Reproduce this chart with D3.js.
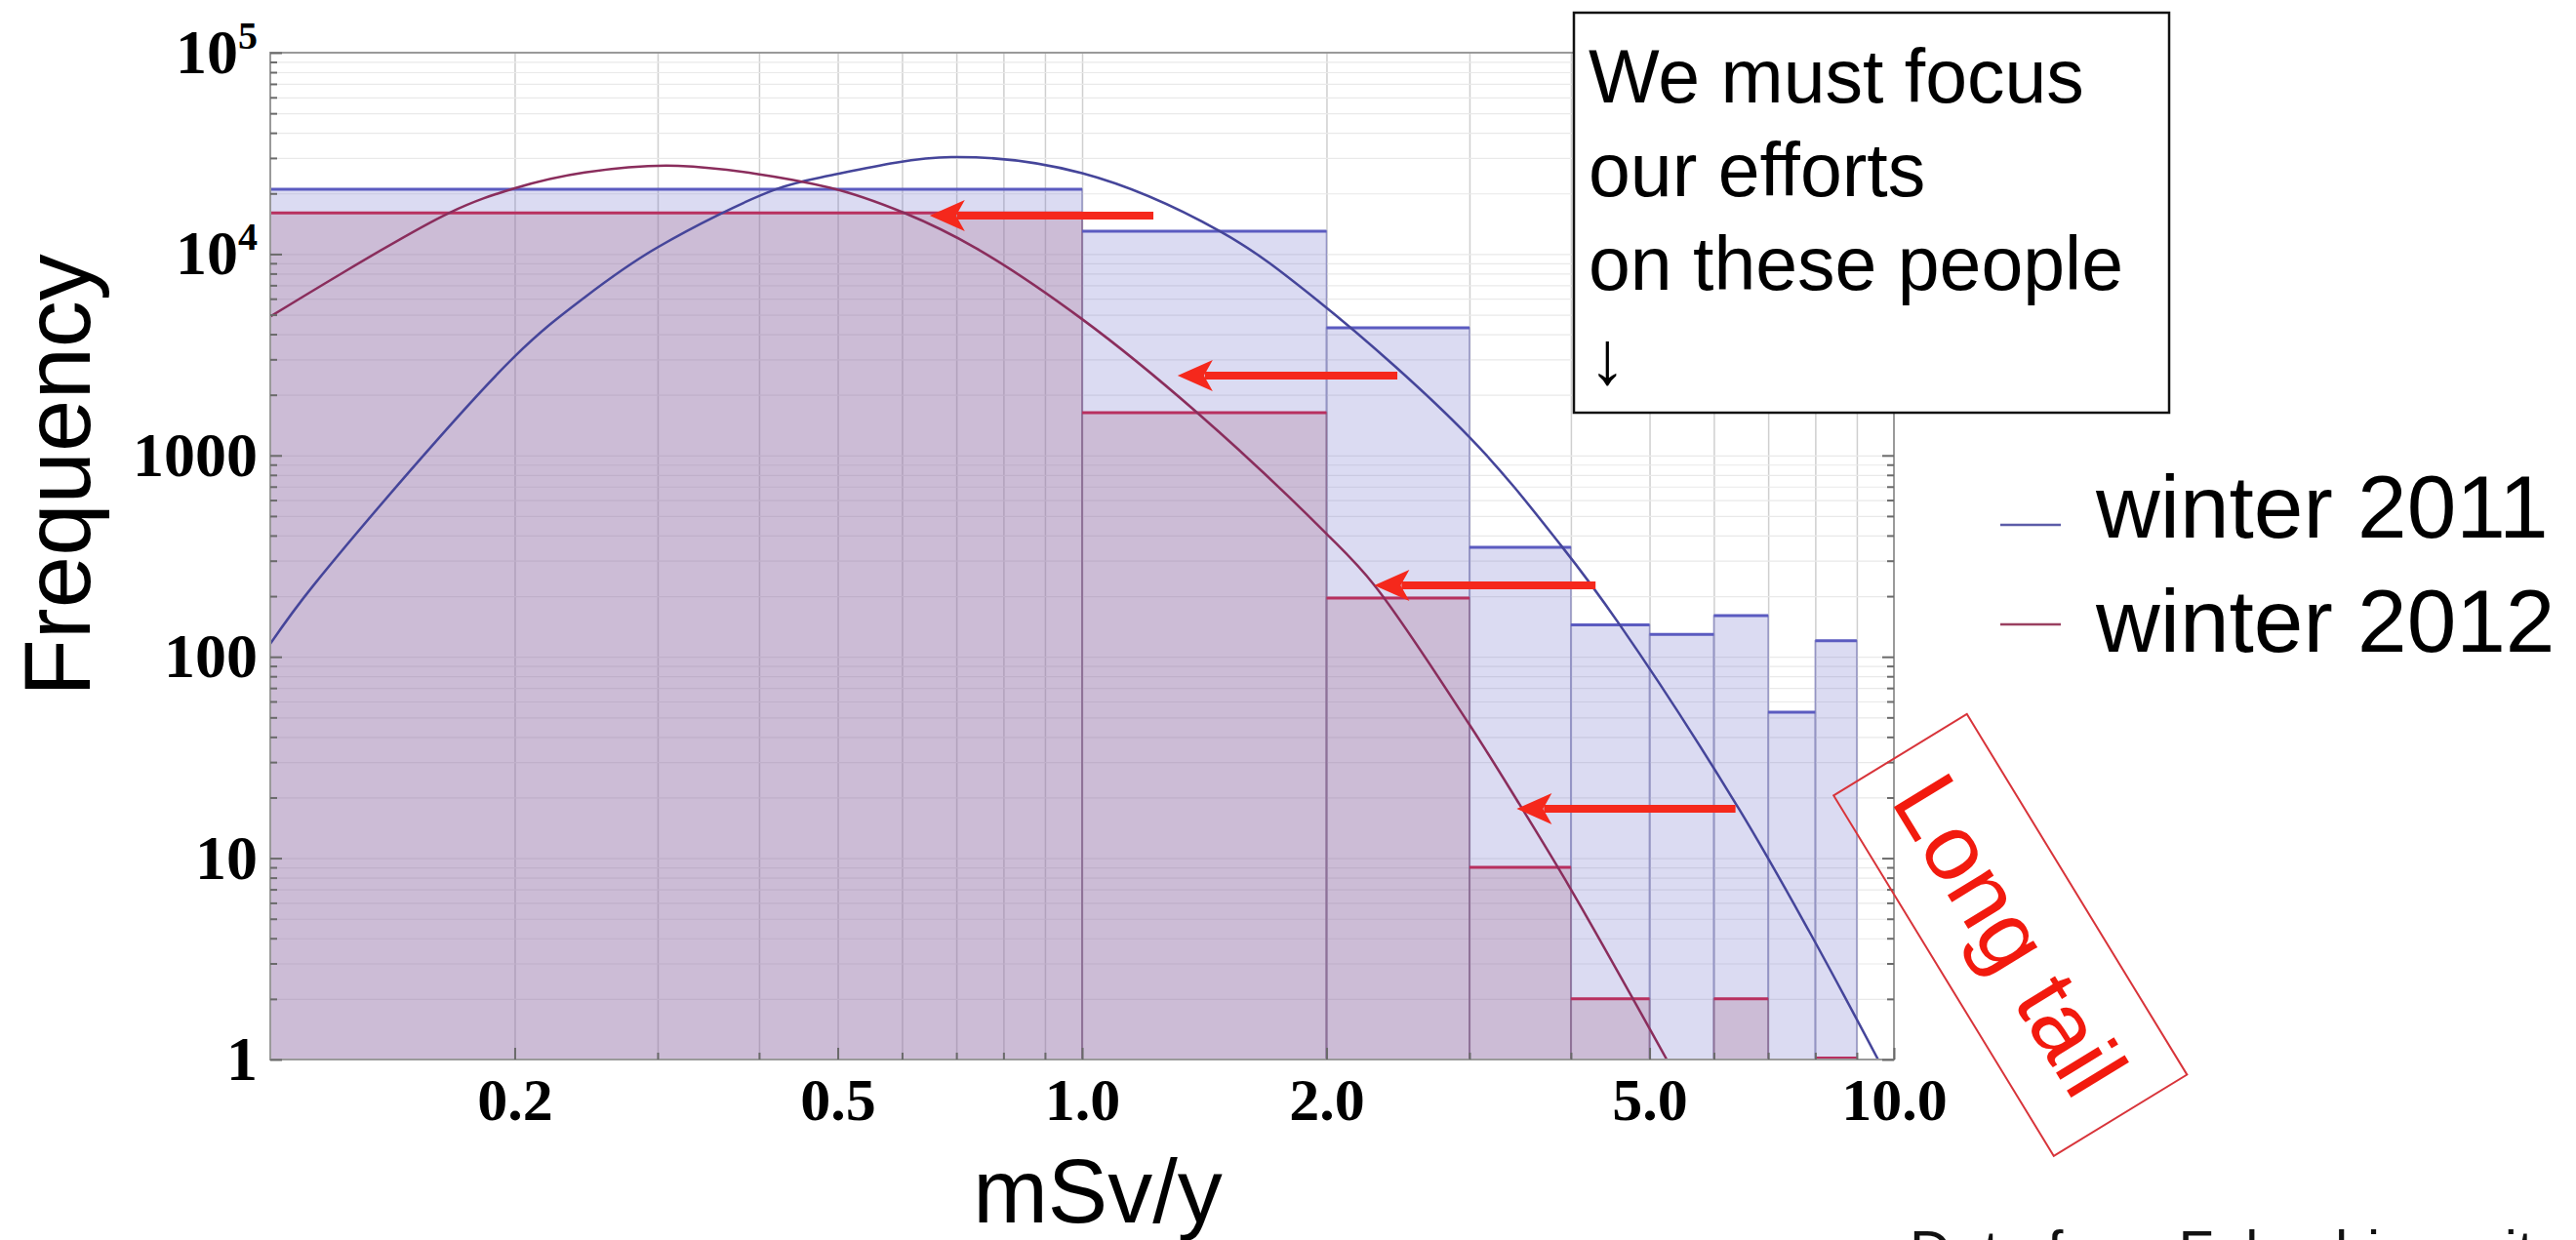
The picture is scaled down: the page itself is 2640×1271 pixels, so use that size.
<!DOCTYPE html>
<html>
<head>
<meta charset="utf-8">
<script src="https://cdn.jsdelivr.net/npm/d3@7"></script>
<style>
  html, body { margin: 0; padding: 0; background: #fff; }
  svg { display: block; }
</style>
</head>
<body>
<div id="graph"></div>
<script>
// histogram bins (first bin 0-1 is cut at the axis minimum 0.1)
var binStart = [0.1, 1, 2, 3, 4, 5, 6, 7, 8, 9];
var binEnd   = [1, 2, 3, 4, 5, 6, 7, 8, 9, 10];
var winter2011 = [21000, 13000, 4300, 350, 144, 129, 160, 53, 120, 0];
var winter2012 = [16000, 1630, 196, 9, 2, 0, 2, 0, 1, 0];

// fitted curves, points
var fit2011X = [0.1, 0.113, 0.2, 0.244, 0.3, 0.42, 0.488, 0.69, 1.0, 1.477, 1.948, 3.0, 3.89, 4.59, 6.43, 7.87, 9.56];
var fit2011Y = [116, 226, 3100, 6100, 10800, 21000, 24500, 30300, 25200, 13000, 5900, 1233, 357, 145, 17.8, 4.3, 1];
var fit2012X = [0.1, 0.166, 0.2, 0.244, 0.318, 0.488, 0.604, 0.74, 1.0, 1.386, 2.0, 2.29, 3.0, 3.43, 4.0, 5.25];
var fit2012Y = [4890, 16000, 21200, 25400, 27400, 21400, 16000, 10700, 4750, 1630, 408, 227, 46, 19.5, 7.0, 1];

// red arrows: from x, to x, at level y
var arrowFromX = [1.224, 2.445, 4.29, 6.38];
var arrowToX   = [0.649, 1.311, 2.29, 3.43];
var arrowY     = [15500, 2490, 226, 17.6];

var yMajor = [1, 10, 100, 1000, 10000, 100000];
var xMajor = [0.2, 0.5, 1, 2, 5, 10];
var seriesNames = ["winter 2011", "winter 2012"];
var noteLines = ["We must focus", "our efforts", "on these people", "\u2193"];

var W = 2640, H = 1271;
var pL = 277, pR = 1941, pT = 54, pB = 1086;
var sans = "'Liberation Sans', Arial, Helvetica, sans-serif";
var serif = "'Liberation Serif', 'Times New Roman', serif";

var svg = d3.select("#graph").append("svg")
    .attr("width", W).attr("height", H)
    .style("background", "#fff");

var x = d3.scaleLog().domain([0.1, 10]).range([pL, pR]);
var y = d3.scaleLog().domain([1, 100000]).range([pB, pT]);

svg.append("defs").append("clipPath").attr("id", "plotclip")
  .append("rect").attr("x", pL).attr("y", pT)
  .attr("width", pR - pL).attr("height", pB - pT);

// grid lines
var gx = svg.append("g").attr("transform", "translate(0," + pB + ")")
  .call(d3.axisBottom(x).tickValues(x.ticks().filter(function(t){ return t > 0.1 && t < 10; }))
    .tickSize(-(pB - pT)).tickFormat(""));
var gy = svg.append("g").attr("transform", "translate(" + pL + ",0)")
  .call(d3.axisLeft(y).tickValues(y.ticks().filter(function(t){ return t > 1 && t < 100000; }))
    .tickSize(-(pR - pL)).tickFormat(""));
gx.select(".domain").remove();
gy.select(".domain").remove();
gx.selectAll("line").attr("stroke", "#cfcfcf").attr("stroke-width", 1.5);
gy.selectAll("line").attr("stroke", "#e9e9e9").attr("stroke-width", 1.2);

var bins = binStart.map(function(s, i) {
  return { x0: s, x1: binEnd[i], a: winter2011[i], b: winter2012[i] };
});

var plot = svg.append("g").attr("clip-path", "url(#plotclip)");

// winter 2011 bars
plot.selectAll("rect.b2011")
  .data(bins.filter(function(d){ return d.a > 0; }))
  .enter().append("rect")
  .attr("class", "b2011")
  .attr("x", function(d){ return x(d.x0); })
  .attr("y", function(d){ return y(d.a); })
  .attr("width", function(d){ return x(d.x1) - x(d.x0); })
  .attr("height", function(d){ return y(1) - y(d.a); })
  .attr("fill", "rgba(100,100,200,0.23)")
  .attr("stroke", "#9494c4").attr("stroke-width", 1.5);

// winter 2012 bars
plot.selectAll("rect.b2012")
  .data(bins.filter(function(d){ return d.b > 0; }))
  .enter().append("rect")
  .attr("class", "b2012")
  .attr("x", function(d){ return x(d.x0); })
  .attr("y", function(d){ return y(d.b); })
  .attr("width", function(d){ return x(d.x1) - x(d.x0); })
  .attr("height", function(d){ return y(1) - y(d.b); })
  .attr("fill", "rgba(170,117,149,0.30)")
  .attr("stroke", "#8f7197").attr("stroke-width", 1.5);

// bar tops
plot.selectAll("line.t2011")
  .data(bins.filter(function(d){ return d.a > 0; }))
  .enter().append("line")
  .attr("x1", function(d){ return x(d.x0); })
  .attr("x2", function(d){ return x(d.x1); })
  .attr("y1", function(d){ return y(d.a); })
  .attr("y2", function(d){ return y(d.a); })
  .attr("stroke", "#5b5bc0").attr("stroke-width", 3);
plot.selectAll("line.t2012")
  .data(bins.filter(function(d){ return d.b > 0; }))
  .enter().append("line")
  .attr("x1", function(d){ return x(d.x0); })
  .attr("x2", function(d){ return x(d.x1); })
  .attr("y1", function(d){ return Math.min(y(d.b), pB - 1.5); })
  .attr("y2", function(d){ return Math.min(y(d.b), pB - 1.5); })
  .attr("stroke", "#b8305f").attr("stroke-width", 3);

// fitted curves
var line = d3.line()
  .x(function(d){ return x(d[0]); })
  .y(function(d){ return y(d[1]); })
  .curve(d3.curveCatmullRom.alpha(0.5));

plot.append("path")
  .datum(fit2011X.map(function(v, i){ return [v, fit2011Y[i]]; }))
  .attr("d", line).attr("fill", "none")
  .attr("stroke", "#45459a").attr("stroke-width", 2.5);
plot.append("path")
  .datum(fit2012X.map(function(v, i){ return [v, fit2012Y[i]]; }))
  .attr("d", line).attr("fill", "none")
  .attr("stroke", "#8a2d5c").attr("stroke-width", 2.5);

// frame
svg.append("rect")
  .attr("x", pL).attr("y", pT)
  .attr("width", pR - pL).attr("height", pB - pT)
  .attr("fill", "none").attr("stroke", "#9a9a9a").attr("stroke-width", 2);

// axes with inward ticks
var yMinor = y.ticks().filter(function(t){ return yMajor.indexOf(t) < 0; });
var xMinor = x.ticks().filter(function(t){ return xMajor.indexOf(t) < 0 && t > 0.1; });

var axL = svg.append("g").attr("transform", "translate(" + pL + ",0)")
  .call(d3.axisLeft(y).tickValues(yMajor).tickSizeInner(-12).tickSizeOuter(0).tickPadding(13)
    .tickFormat(function(d){ return d >= 10000 ? "" : d3.format("d")(d); }));
var axLm = svg.append("g").attr("transform", "translate(" + pL + ",0)")
  .call(d3.axisLeft(y).tickValues(yMinor).tickSize(-7).tickFormat(""));
var axR = svg.append("g").attr("transform", "translate(" + pR + ",0)")
  .call(d3.axisRight(y).tickValues(yMajor).tickSize(-12).tickFormat(""));
var axRm = svg.append("g").attr("transform", "translate(" + pR + ",0)")
  .call(d3.axisRight(y).tickValues(yMinor).tickSize(-7).tickFormat(""));
var axB = svg.append("g").attr("transform", "translate(0," + pB + ")")
  .call(d3.axisBottom(x).tickValues(xMajor).tickSizeInner(-12).tickSizeOuter(0).tickPadding(18)
    .tickFormat(d3.format(".1f")));
var axBm = svg.append("g").attr("transform", "translate(0," + pB + ")")
  .call(d3.axisBottom(x).tickValues(xMinor).tickSize(-7).tickFormat(""));

[axL, axLm, axR, axRm, axB, axBm].forEach(function(g) {
  g.select(".domain").remove();
  g.selectAll("line").attr("stroke", "#6a6a6a").attr("stroke-width", 2);
  g.selectAll("text")
    .attr("font-family", serif).attr("font-weight", "bold")
    .attr("font-size", 64).attr("fill", "#000");
});
axB.selectAll("text").attr("font-size", 62);

// powers of ten with superscript
axL.selectAll("text").each(function(d) {
  if (d >= 10000) {
    var t = d3.select(this);
    t.text("10");
    t.append("tspan").attr("dy", -25).attr("font-size", "40px")
      .text(Math.round(Math.log10(d)));
  }
});

// axis titles
svg.append("text")
  .attr("transform", "translate(92,487) rotate(-90)")
  .attr("text-anchor", "middle")
  .attr("font-family", sans).attr("font-size", 96)
  .text("Frequency");
svg.append("text")
  .attr("x", 1125).attr("y", 1253)
  .attr("text-anchor", "middle")
  .attr("font-family", sans).attr("font-size", 92)
  .text("mSv/y");

// red arrows
var arrows = arrowFromX.map(function(v, i){ return { from: v, to: arrowToX[i], level: arrowY[i] }; });
var ag = svg.append("g");
ag.selectAll("line").data(arrows).enter().append("line")
  .attr("x1", function(d){ return x(d.from); })
  .attr("x2", function(d){ return x(d.to) + 28; })
  .attr("y1", function(d){ return y(d.level); })
  .attr("y2", function(d){ return y(d.level); })
  .attr("stroke", "#f5281c").attr("stroke-width", 8);
ag.selectAll("path").data(arrows).enter().append("path")
  .attr("d", function(d) {
    var tx = x(d.to), ty = y(d.level);
    return "M" + tx + "," + ty +
      "L" + (tx + 36) + "," + (ty - 16) +
      "L" + (tx + 27) + "," + ty +
      "L" + (tx + 36) + "," + (ty + 16) + "Z";
  })
  .attr("fill", "#f5281c");

// note box
svg.append("rect")
  .attr("x", 1613).attr("y", 13).attr("width", 610).attr("height", 410)
  .attr("fill", "#fff").attr("stroke", "#111").attr("stroke-width", 2.5);
svg.append("g").selectAll("text").data(noteLines).enter().append("text")
  .attr("x", 1628)
  .attr("y", function(d, i){ return 105 + i * 96; })
  .attr("font-family", sans + ", 'DejaVu Sans'").attr("font-size", 77)
  .attr("fill", "#000")
  .text(function(d){ return d; });

// legend
var legColors = ["#5c5ca8", "#9a4060"];
var legLineY = [538, 640];
var legTextY = [551, 668];
var lg = svg.append("g");
lg.selectAll("line").data(seriesNames).enter().append("line")
  .attr("x1", 2050).attr("x2", 2112)
  .attr("y1", function(d, i){ return legLineY[i]; })
  .attr("y2", function(d, i){ return legLineY[i]; })
  .attr("stroke", function(d, i){ return legColors[i]; }).attr("stroke-width", 2.5);
lg.selectAll("text").data(seriesNames).enter().append("text")
  .attr("x", 2148)
  .attr("y", function(d, i){ return legTextY[i]; })
  .attr("font-family", sans).attr("font-size", 91).attr("fill", "#000")
  .text(function(d){ return d; });

// "Long tail" stamp
var lt = svg.append("g").attr("transform", "translate(2060,958) rotate(58.6)");
lt.append("rect")
  .attr("x", -216).attr("y", -80).attr("width", 433).attr("height", 160)
  .attr("fill", "none").attr("stroke", "#d8343a").attr("stroke-width", 2);
lt.append("text")
  .attr("text-anchor", "middle").attr("dy", "0.35em")
  .attr("font-family", sans).attr("font-size", 96).attr("fill", "#f21a0e")
  .text("Long tail");

// source note, cut by the bottom edge
svg.append("text")
  .attr("x", 1957).attr("y", 1303)
  .attr("font-family", sans).attr("font-size", 59).attr("fill", "#111")
  .text("Data from Fukushima city");
</script>
</body>
</html>
